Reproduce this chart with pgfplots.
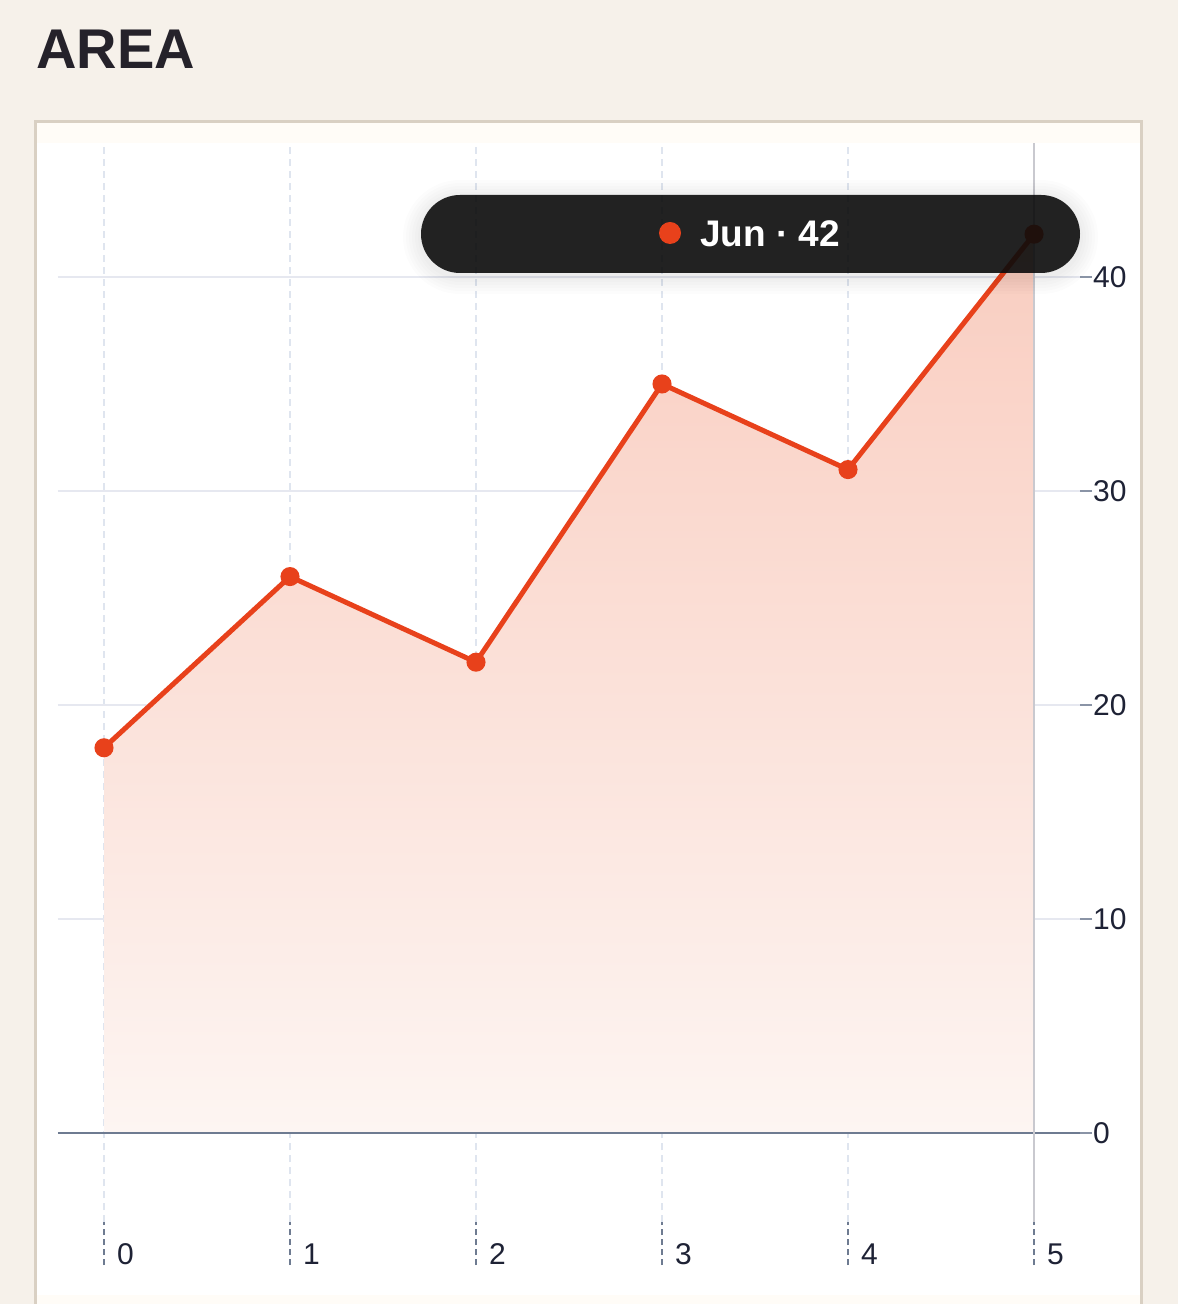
\documentclass[border=0pt]{standalone}
\usepackage{pgfplots}
\pgfplotsset{compat=1.18}
\usepackage{fontspec}
\setmainfont{Liberation Sans}

\definecolor{bg}{HTML}{F6F1EA}
\definecolor{panelfill}{HTML}{FFFCF7}
\definecolor{panelborder}{HTML}{D9D0C3}
\definecolor{titlec}{HTML}{25222A}
\definecolor{linec}{HTML}{E8411B}
\definecolor{gridh}{HTML}{E6E8F0}
\definecolor{gridv}{HTML}{DFE5EF}
\definecolor{zeroc}{HTML}{6E7B91}
\definecolor{xtickc}{HTML}{6E7B91}
\definecolor{ytickc}{HTML}{8A94A6}
\definecolor{labelc}{HTML}{1E2235}
\definecolor{cursorc}{HTML}{C9C9CF}
\definecolor{tipc}{HTML}{0C0C0C}
\definecolor{areatop}{RGB}{249,205,192}
\definecolor{areabot}{RGB}{253,245,242}

\pgfplotstableread{
x y
0 18
1 26
2 22
3 35
4 31
5 42
}\series

\begin{document}
\begin{tikzpicture}[x=1pt,y=1pt]
% page and panel
\fill[bg] (0,0) rectangle (1178,1304);
\fill[panelfill] (37,0) rectangle (1140,1181);
\draw[panelborder, line width=3pt] (35.5,-5) -- (35.5,1182.5) -- (1141.5,1182.5) -- (1141.5,-5);
\fill[white] (37,9) rectangle (1140,1161);
\node[anchor=base west, inner sep=0pt, text=titlec,
      font=\fontsize{56}{60}\selectfont\bfseries] at (36,1235) {AREA};

% main axis: grid, x ticks, data
\begin{axis}[
    at={(104pt,171pt)}, anchor=origin,
    scale only axis, width=1022pt, height=1079pt,
    xmin=-0.24731, xmax=5.24731,
    ymin=-4.159, ymax=46.262,
    axis line style={draw=none},
    tick align=outside,
    major tick length=43pt,
    xtick pos=bottom,
    xtick={0,...,5},
    x tick style={draw=xtickc, line width=1.5pt, dash pattern=on 6pt off 4pt},
    xticklabel style={anchor=west, inner sep=0pt, xshift=13pt, yshift=10.5pt,
                      text=labelc, font=\fontsize{30}{32}\selectfont},
    ytick={10,20,30,40},
    ytick style={draw=none},
    yticklabel={\phantom{0}},
    grid=major,
    x grid style={gridv, line width=1.2pt, dash pattern=on 7pt off 5pt},
    y grid style={gridh, line width=1.5pt},
    /pgf/number format/assume math mode=true,
]
\addplot[draw=none, top color=areatop, bottom color=areabot] table[x=x, y=y] {\series} \closedcycle;
\draw[zeroc, line width=2.5pt] (axis cs:-0.24731,0) -- (axis cs:5.24731,0);
\draw[cursorc, line width=2.5pt] (axis cs:5,-4.159) -- (axis cs:5,46.262);
\addplot[linec, line width=5pt, mark=*, mark size=7pt,
         mark options={solid, fill=linec, draw=none}] table[x=x, y=y] {\series};
\end{axis}

% second axis: y ticks and labels on the right
\begin{axis}[
    at={(104pt,171pt)}, anchor=origin,
    scale only axis, width=1022pt, height=1079pt,
    xmin=-0.24731, xmax=5.24731,
    ymin=-4.159, ymax=46.262,
    axis line style={draw=none},
    xtick=\empty,
    ytick={0,10,20,30,40},
    ytick pos=right, yticklabel pos=right,
    tick align=outside,
    major tick length=12pt,
    y tick style={draw=ytickc, line width=1.5pt},
    yticklabel style={anchor=west, inner sep=0pt, xshift=1pt,
                      text=labelc, font=\fontsize{30}{32}\selectfont},
    /pgf/number format/assume math mode=true,
]
\end{axis}

% tooltip
\foreach \i in {1,...,6} {
  \fill[black, opacity=0.012, rounded corners={39+3*\i}]
    ({421-3*\i},{1028-3*\i}) rectangle ({1080+3*\i},{1106+3*\i});
}
\fill[tipc, opacity=0.9, rounded corners=39pt] (421,1031) rectangle (1080,1109);
\fill[linec] (670,1071) circle (11);
\node[anchor=base west, inner sep=0pt, text=white,
      font=\fontsize{37}{40}\selectfont\bfseries] at (700,1057) {Jun · 42};

\pgfresetboundingbox
\path[use as bounding box] (0,0) rectangle (1178,1304);
\end{tikzpicture}
\end{document}
